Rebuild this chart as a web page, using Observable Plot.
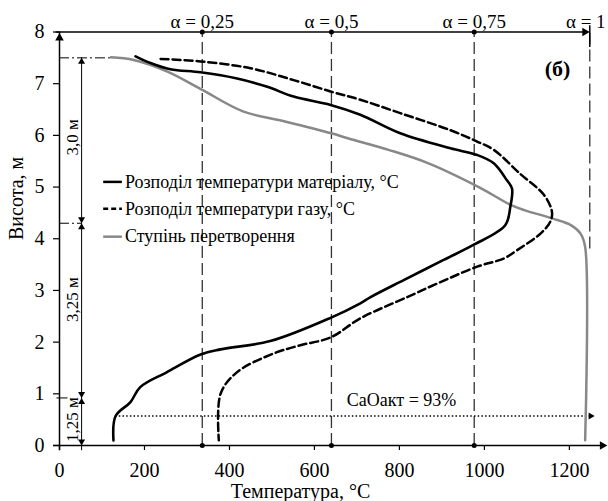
<!DOCTYPE html>
<html><head><meta charset="utf-8">
<script src="https://cdn.jsdelivr.net/npm/d3@7"></script>
<script src="https://cdn.jsdelivr.net/npm/@observablehq/plot@0.6"></script>
<style>
body{margin:0;background:#fff;}
</style>
</head><body><div id="chart"></div>
<script>
const FONT = "Liberation Serif";

// Material temperature (°C) along kiln height (m)
const matTemp   = [179,214,261,332,418,489,551,638,708,802,920,983,1022,1053,1065,1061,1049,974,904,810,732,708,638,496,379,332,253,190,167,132,127];
const matHeight = [7.53,7.40,7.28,7.22,7.10,6.94,6.75,6.59,6.40,6.04,5.75,5.62,5.46,5.13,4.97,4.62,4.26,3.88,3.59,3.20,2.87,2.75,2.47,2.02,1.86,1.76,1.42,1.13,0.84,0.57,0.10];

// Gas temperature (°C) along height (m)
const gasTemp   = [238,332,449,551,638,708,802,920,983,1022,1085,1140,1159,1155,1132,1077,1046,983,888,818,708,638,567,504,418,379,375];
const gasHeight = [7.48,7.43,7.30,7.07,6.85,6.69,6.43,6.10,5.88,5.72,5.25,4.85,4.52,4.33,4.10,3.78,3.62,3.46,3.13,2.87,2.46,2.09,1.94,1.78,1.42,1.00,0.10];

// Degree of conversion α along height (m)
const convAlpha  = [0.09,0.13,0.19,0.25,0.33,0.41,0.50,0.53,0.60,0.67,0.76,0.83,0.86,0.92,0.96,0.98,0.99,0.99];
const convHeight = [7.51,7.46,7.23,6.88,6.46,6.27,6.04,5.94,5.72,5.46,5.00,4.65,4.55,4.39,4.26,4.10,3.84,0.10];

// Axis ticks
const xTicks = [0,200,400,600,800,1000,1200];
const yTicks = [0,1,2,3,4,5,6,7,8];

// Secondary α axis: tick values and where they sit on the temperature axis
const alphaTicks     = [0,0.25,0.5,0.75,1];
const alphaTickTemps = [0,336,640,976,1248];
const alphaLevels    = [0.25,0.5,0.75,1];
const alphaLabels    = ["α = 0,25","α = 0,5","α = 0,75","α = 1"];
const alphaLineEnds  = [0,0,0,3.8];

// Zones along the height
const zoneBounds = [7.5,4.3,0.92,0];
const zoneLabels = ["3,0 м","3,25 м","1,25 м"];

// Active CaO
const caoLevel = 0.57;
const caoLabel = "CaOакт = 93%";

const legendLabels = ["Розподіл температури матеріалу, °C","Розподіл температури газу, °C","Ступінь перетворення"];
const panelLabel = "(б)";
const xTitle = "Температура, °C";
const yTitle = "Висота, м";

const aToT = d3.scaleLinear().domain(alphaTicks).range(alphaTickTemps);
const mat = matTemp.map((t,i)=>({t, h: matHeight[i]}));
const gas = gasTemp.map((t,i)=>({t, h: gasHeight[i]}));
const conv = convAlpha.map((a,i)=>({t: aToT(a), h: convHeight[i]}));
const alphaItems = alphaLevels.map((a,i)=>({t: aToT(a), label: alphaLabels[i]}));

const dimX = 52;
const segs = zoneLabels.map((l,i)=>({top: zoneBounds[i], bot: zoneBounds[i+1], label: l}));
const zoneLabelY = [5.96, 2.82, 0.50];

const legendRows = [5.1, 4.58, 4.04];
const legendStyles = [
  {stroke:"#000", dash:null},
  {stroke:"#000", dash:"5,3"},
  {stroke:"#888", dash:null}
];

const tri = (data, opts) => Plot.dot(data, {symbol:"triangle", r:3.2, fill:"#000", stroke:"none", ...opts});
const T = {fontFamily: FONT};

const chart = Plot.plot({
  width: 608, height: 501,
  marginLeft: 59, marginRight: 3, marginTop: 16, marginBottom: 56,
  x: {domain: [0, 1285]},
  y: {domain: [0, 8.3]},
  style: {fontFamily: FONT, fontSize: "20px"},
  marks: [
    // α reference lines
    Plot.ruleX(alphaItems, {x: "t", y1: (a,i) => alphaLineEnds[i], y2: 8, stroke: "#333", strokeWidth: 1.3, strokeDasharray: "12,5"}),
    Plot.ruleX(alphaItems.slice(3), {x: "t", y1: 7.7, y2: 8.12, stroke: "#000", strokeWidth: 1.5}),
    // axes lines
    Plot.ruleY([0], {x1: -14, x2: 1280, stroke: "#000", strokeWidth: 1.5}),
    tri([0], {x: 1280, y: 0, rotate: 90, dx: -1}),
    Plot.ruleX([0], {y1: -0.1, y2: 8, stroke: "#000", strokeWidth: 1.5}),
    tri([0], {x: 0, y: 8, dy: 6}),
    Plot.ruleY([8], {x1: -8, x2: aToT(1) - 4, stroke: "#000", strokeWidth: 1.3}),
    tri(alphaItems.slice(3), {x: "t", y: 8, rotate: 90, dx: -5}),
    Plot.dot(alphaItems.slice(0,3), {x: "t", y: 8, r: 2.5, fill: "#000"}),
    Plot.dot(alphaItems.slice(0,3), {x: "t", y: 0, r: 2.5, fill: "#000"}),
    Plot.text(alphaItems.slice(0,3), {x: "t", y: 8, dy: -10, text: "label", fontSize: 19, ...T}),
    Plot.text(alphaItems.slice(3), {x: "t", y: 8, dy: -10, dx: -4, text: "label", fontSize: 19, ...T}),
    Plot.axisX(xTicks, {tickSize: 5, tickPadding: 12, fontSize: 20, label: null, tickFormat: d => String(d), stroke: "#000", strokeWidth: 1.2, ...T}),
    Plot.axisY(yTicks, {tickSize: 6, tickPadding: 9, fontSize: 20, label: null, tickFormat: d => String(d), stroke: "#000", strokeWidth: 1.2, ...T}),
    Plot.text([yTitle], {frameAnchor: "left", rotate: -90, dx: -43, dy: 9, fontSize: 20, lineAnchor: "middle", ...T}),
    Plot.text([xTitle], {frameAnchor: "bottom", dx: -32, dy: 46, fontSize: 20, lineAnchor: "middle", ...T}),
    // zone dimension annotations
    Plot.ruleY([zoneBounds[0]], {x1: 0, x2: conv[0].t, stroke: "#000", strokeWidth: 1, strokeDasharray: "10,3,2,3"}),
    Plot.ruleY([zoneBounds[1]], {x1: 0, x2: dimX, stroke: "#000", strokeWidth: 1, strokeDasharray: "10,3,2,3"}),
    Plot.ruleY([zoneBounds[2]], {x1: -6, x2: 20, stroke: "#000", strokeWidth: 1}),
    Plot.ruleX([dimX], {y1: -0.1, y2: zoneBounds[0], stroke: "#000", strokeWidth: 1}),
    tri(segs, {x: dimX, y: "top", dy: 4, r: 2.6}),
    tri(segs, {x: dimX, y: "bot", dy: -4, rotate: 180, r: 2.6}),
    Plot.text(segs, {x: 30, y: (d,i) => zoneLabelY[i], text: "label", rotate: -90, fontSize: 17, ...T}),
    // CaO level
    Plot.ruleY([caoLevel], {x1: mat[mat.length-2].t, x2: 1250, stroke: "#000", strokeWidth: 1.6, strokeDasharray: "1.5,2.2"}),
    tri([0], {x: 1250, y: caoLevel, rotate: 90, r: 2.6}),
    Plot.text([caoLabel], {x: 805, y: caoLevel, dy: -16, fontSize: 18, ...T}),
    // curves
    Plot.line(conv, {x: "t", y: "h", stroke: "#888", strokeWidth: 2.5, curve: "catmull-rom"}),
    Plot.line(gas, {x: "t", y: "h", stroke: "#000", strokeWidth: 2.5, strokeDasharray: "8,4", curve: "catmull-rom"}),
    Plot.line(mat, {x: "t", y: "h", stroke: "#000", strokeWidth: 2.6, curve: "catmull-rom"}),
    // legend
    ...legendLabels.map((l,i) => Plot.ruleY([legendRows[i]], {x1: 104, x2: 148, stroke: legendStyles[i].stroke, strokeWidth: 2.5, strokeDasharray: legendStyles[i].dash})),
    Plot.text(legendLabels, {x: 154, y: (d,i) => legendRows[i], textAnchor: "start", fontSize: 18, ...T}),
    // panel label
    Plot.text([panelLabel], {x: 1172, y: 7.29, fontSize: 22, fontWeight: "bold", ...T})
  ]
});
chart.querySelectorAll("text").forEach(t => t.setAttribute("font-family", FONT));
document.getElementById("chart").appendChild(chart);
</script>
</body></html>
